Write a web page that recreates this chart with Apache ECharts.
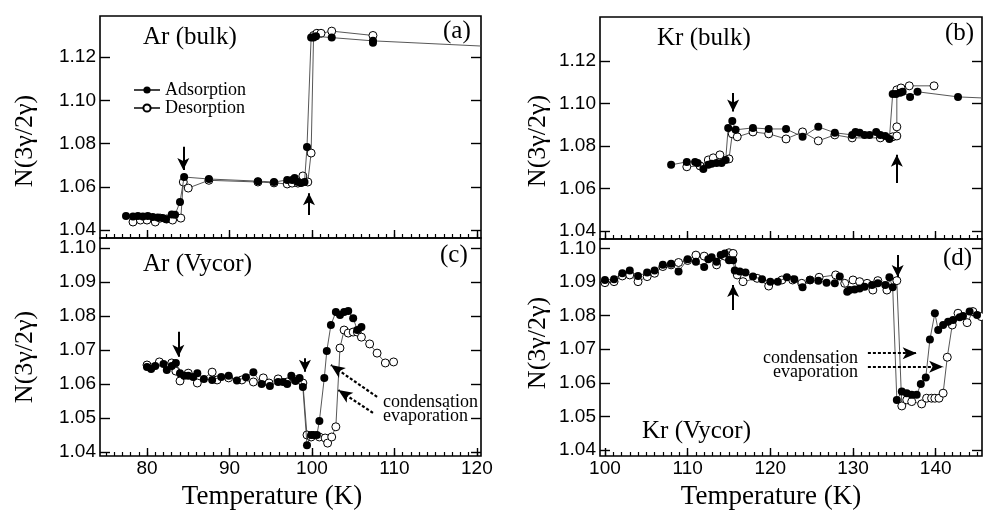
<!DOCTYPE html>
<html>
<head>
<meta charset="utf-8">
<script src="https://cdn.jsdelivr.net/npm/echarts@6/dist/echarts.min.js"></script>
<style>
html,body{margin:0;padding:0;background:#fff}
#chart{width:983px;height:512px}
</style>
</head>
<body>
<div id="chart"></div>
<script>
// (a) Ar bulk
var arBulkAdsT = [77.45,78.3,78.9,79.5,80.1,80.7,81.3,81.9,82.3,83.0,83.4,84.0,84.5,87.5,93.45,95.4,97.0,97.6,97.9,98.3,98.7,99.1,99.4,99.9,100.2,100.5,102.4,107.4,107.4];
var arBulkAdsN = [1.0465,1.0462,1.0465,1.0462,1.0465,1.0460,1.0458,1.0455,1.0450,1.0472,1.0470,1.0530,1.0645,1.0636,1.0626,1.0622,1.0631,1.0631,1.0640,1.0622,1.0618,1.0622,1.0784,1.1290,1.1290,1.1296,1.1290,1.1275,1.1266];
var arBulkTail = [120.5,1.1251];
var arBulkDesT = [78.3,79.2,80.0,81.0,81.6,82.4,83.1,84.1,84.4,85.0,87.5,93.45,95.4,97.0,97.6,98.3,98.9,99.5,99.9,100.2,100.6,101.1,102.4,107.4];
var arBulkDesN = [1.0437,1.0446,1.0446,1.0437,1.0455,1.0451,1.0446,1.0455,1.0622,1.0594,1.0630,1.0622,1.0618,1.0613,1.0617,1.0617,1.0650,1.0622,1.0756,1.1300,1.1310,1.1310,1.1320,1.1300];
var arBulkArrows = [[[84.4,1.0785],[84.4,1.0677]],[[99.64,1.0469],[99.64,1.0570]]];

// (c) Ar in Vycor
var arVycAdsT = [80.0,80.5,81.0,82.0,82.4,83.0,83.5,84.0,84.5,85.0,85.6,86.1,86.9,87.9,89.0,89.9,90.9,92.0,92.9,93.9,94.9,95.9,96.5,97.0,97.5,98.0,98.5,98.9,99.4,99.9,100.2,100.6,100.9,101.5,101.8,102.3,102.9,103.4,103.9,104.4,105.0,105.5,106.0];
var arVycAdsN = [1.0650,1.0644,1.0653,1.0659,1.0641,1.0653,1.0662,1.0632,1.0624,1.0624,1.0621,1.0632,1.0615,1.0612,1.0621,1.0624,1.0610,1.0620,1.0635,1.0600,1.0594,1.0606,1.0606,1.0600,1.0624,1.0609,1.0618,1.0591,1.0420,1.0450,1.0450,1.0450,1.0491,1.0618,1.0697,1.0774,1.0812,1.0803,1.0812,1.0815,1.0794,1.0759,1.0768];
var arVycDesT = [80.0,81.5,83.0,83.5,84.0,85.0,86.1,87.9,88.5,89.9,91.5,92.9,94.1,94.8,95.9,97.0,98.0,98.9,99.4,99.9,100.9,101.6,101.9,102.4,102.9,103.4,103.9,104.4,105.0,105.5,106.0,107.0,107.9,108.9,109.9];
var arVycDesN = [1.0656,1.0665,1.0662,1.0638,1.0609,1.0632,1.0603,1.0635,1.0612,1.0618,1.0612,1.0606,1.0618,1.0603,1.0615,1.0606,1.0612,1.0603,1.0450,1.0444,1.0444,1.0441,1.0426,1.0444,1.0474,1.0706,1.0759,1.0750,1.0753,1.0753,1.0738,1.0718,1.0691,1.0662,1.0665];
var arVycArrows = [[[83.8,1.0754],[83.8,1.0680]],[[99.15,1.0676],[99.15,1.0636]]];
var arVycDashed = [[[107.9,1.0562],[102.3,1.0656]],[[107.4,1.0515],[103.2,1.0582]]];

// (b) Kr bulk
var krBulkAdsT = [108.0,109.9,110.9,111.2,111.9,112.5,112.9,113.5,114.1,114.6,114.9,115.4,115.8,117.9,119.8,121.9,123.9,125.8,127.8,129.9,130.3,130.8,131.4,132.0,132.8,133.3,133.9,134.4,134.8,135.2,135.7,136.0,136.9,137.8,142.7];
var krBulkAdsN = [1.0711,1.0725,1.0725,1.0720,1.0692,1.0711,1.0716,1.0720,1.0720,1.0734,1.0885,1.0918,1.0876,1.0885,1.0880,1.0880,1.0843,1.0890,1.0862,1.0852,1.0866,1.0862,1.0852,1.0852,1.0866,1.0852,1.0847,1.0833,1.1045,1.1045,1.1050,1.1055,1.1031,1.1055,1.1031];
var krBulkTail = [145.6,1.1026];
var krBulkDesT = [109.9,111.5,112.5,113.1,113.9,115.0,115.4,116.0,117.9,119.8,121.9,123.9,125.8,127.8,129.9,133.3,134.8,135.3,135.3,135.3,135.8,136.8,139.8];
var krBulkDesN = [1.0702,1.0706,1.0734,1.0744,1.0758,1.0739,1.0857,1.0843,1.0866,1.0857,1.0833,1.0866,1.0824,1.0852,1.0838,1.0838,1.0843,1.0847,1.0890,1.1064,1.1073,1.1083,1.1083];
var krBulkArrows = [[[115.5,1.1049],[115.5,1.0962]],[[135.3,1.0626],[135.3,1.0758]]];

// (d) Kr in Vycor
var krVycAdsT = [100.0,101.1,102.1,103.0,104.0,105.1,106.0,107.0,108.0,108.9,110.0,111.0,112.0,112.5,112.9,113.5,114.0,114.5,115.0,115.5,115.7,116.3,117.0,117.9,119.0,120.0,120.9,122.0,122.9,123.9,124.8,125.8,126.8,127.8,128.4,129.3,129.6,130.2,130.8,131.4,132.3,133.0,133.9,134.4,134.8,135.3,135.9,136.5,137.1,137.7,138.2,138.8,139.3,139.9,140.3,140.9,141.5,142.1,142.9,143.3,144.1,145.0];
var krVycAdsN = [1.0906,1.0908,1.0926,1.0934,1.0918,1.0928,1.0934,1.0951,1.0954,1.0931,1.0968,1.0960,1.0945,1.0968,1.0974,1.0960,1.0980,1.0985,1.0965,1.0965,1.0934,1.0931,1.0928,1.0916,1.0908,1.0901,1.0901,1.0914,1.0908,1.0884,1.0906,1.0904,1.0898,1.0896,1.0916,1.0871,1.0876,1.0878,1.0881,1.0886,1.0891,1.0896,1.0891,1.0914,1.0884,1.0549,1.0574,1.0569,1.0564,1.0564,1.0596,1.0616,1.0729,1.0807,1.0757,1.0772,1.0782,1.0787,1.0795,1.0799,1.0812,1.0802];
var krVycDesT = [100.0,101.1,102.1,103.0,104.0,105.1,106.0,107.0,108.0,108.9,110.0,111.0,112.0,113.5,114.5,115.0,115.5,116.0,116.7,118.4,119.8,121.4,122.7,123.8,124.8,125.9,127.9,129.0,130.0,130.8,131.7,132.4,133.0,134.1,134.8,135.3,135.9,136.5,137.1,138.3,138.9,139.5,139.9,140.4,140.9,141.4,142.0,142.7,143.8,144.5,145.5];
var krVycDesN = [1.0898,1.0901,1.0918,1.0921,1.0901,1.0916,1.0926,1.0946,1.0951,1.0958,1.0964,1.0980,1.0977,1.0951,1.0977,1.0987,1.0985,1.0921,1.0901,1.0911,1.0888,1.0906,1.0906,1.0896,1.0906,1.0914,1.0921,1.0896,1.0906,1.0901,1.0896,1.0876,1.0904,1.0876,1.0898,1.0904,1.0531,1.0549,1.0544,1.0537,1.0554,1.0554,1.0554,1.0554,1.0569,1.0676,1.0772,1.0807,1.0779,1.0812,1.0797];
var krVycArrows = [[[135.4,1.0980],[135.4,1.0915]],[[115.5,1.0817],[115.5,1.0891]]];
var krVycDashed = [[[131.8,1.0688],[137.7,1.0688]],[[131.8,1.0648],[140.9,1.0648]]];

// axis ticks
var arTempTicks = [80,90,100,110,120];
var krTempTicks = [100,110,120,130,140];
var bulkTicks = [1.04,1.06,1.08,1.10,1.12];
var vycorTicks = [1.04,1.05,1.06,1.07,1.08,1.09,1.10];

var serif = 'Liberation Serif';
var sans = 'Liberation Sans';

function pairs(t, n, tail) {
	var out = [];
	for (var i = 0; i < Math.min(t.length, n.length); i++) out.push([t[i], n[i]]);
	if (tail) out.push({value: tail, symbol: 'none'});
	return out;
}

function minorTicks(lo, hi) {
	var out = [];
	for (var v = Math.ceil(lo); v <= hi; v++) out.push(v);
	return out;
}

function makeX(grid, min, max, major, labels) {
	return [{
		type: 'value', gridIndex: grid, min: min, max: max, position: 'bottom',
		axisLine: {show: false}, splitLine: {show: false},
		axisTick: {show: true, inside: true, length: 8, customValues: major, lineStyle: {color: '#000', width: 1.4}},
		axisLabel: {show: labels, customValues: major, margin: 3, color: '#000', fontFamily: sans, fontSize: 19}
	}, {
		type: 'value', gridIndex: grid, min: min, max: max, position: 'bottom',
		axisLine: {show: false}, splitLine: {show: false},
		axisTick: {show: true, inside: true, length: 4, customValues: minorTicks(min, max), lineStyle: {color: '#000', width: 1.2}},
		axisLabel: {show: false}
	}];
}

function makeY(grid, min, max, ticks) {
	return [{
		type: 'value', gridIndex: grid, min: min, max: max, position: 'left',
		axisLine: {show: false}, splitLine: {show: false},
		axisTick: {show: true, inside: true, length: 10, customValues: ticks, lineStyle: {color: '#000', width: 1.4}},
		axisLabel: {customValues: ticks, margin: 4, color: '#000', fontFamily: sans, fontSize: 19,
			formatter: function (v) { return v.toFixed(2); }}
	}, {
		type: 'value', gridIndex: grid, min: min, max: max, position: 'right',
		axisLine: {show: false}, splitLine: {show: false},
		axisTick: {show: true, inside: true, length: 10, customValues: ticks, lineStyle: {color: '#000', width: 1.4}},
		axisLabel: {show: false}
	}];
}

function arrowLines(list) {
	return list.map(function (a) { return [{coord: a[0]}, {coord: a[1]}]; });
}

function makeSeries(grid, adsData, desData, arrows, dashed) {
	var ads = {
		name: 'Adsorption', type: 'line', xAxisIndex: grid * 2, yAxisIndex: grid * 2,
		data: adsData, symbol: 'circle', symbolSize: 8, z: 3,
		itemStyle: {color: '#000'},
		lineStyle: {color: '#444', width: 0.9},
		markLine: {
			silent: true, symbol: ['none', 'arrow'], symbolSize: [9, 12],
			label: {show: false},
			lineStyle: {color: '#000', width: 2, type: 'solid'},
			data: arrowLines(arrows)
		}
	};
	var des = {
		name: 'Desorption', type: 'line', xAxisIndex: grid * 2, yAxisIndex: grid * 2,
		data: desData, symbol: 'circle', symbolSize: 8, z: 2,
		itemStyle: {color: '#fff', borderColor: '#000', borderWidth: 1},
		lineStyle: {color: '#444', width: 0.9}
	};
	if (dashed) {
		des.markLine = {
			silent: true, symbol: ['none', 'arrow'], symbolSize: [9, 14],
			label: {show: false},
			lineStyle: {color: '#000', width: 2.2, type: [3, 2]},
			data: arrowLines(dashed)
		};
	}
	return [ads, des];
}

function txt(x, y, s, size, align, rot) {
	return {
		type: 'text', x: x, y: y, rotation: rot || 0, silent: true,
		style: {text: s, font: size + 'px "' + serif + '"', fill: '#000',
			align: align || 'left', verticalAlign: 'middle',
			textAlign: align || 'left', textVerticalAlign: 'middle'}
	};
}

var chart = echarts.init(document.getElementById('chart'));

var gridStyle = {show: true, borderColor: '#000', borderWidth: 1.6, backgroundColor: 'transparent', containLabel: false};

var option = {
	animation: false,
	backgroundColor: '#fff',
	grid: [
		Object.assign({left: 100, top: 16, width: 381, height: 222}, gridStyle),
		Object.assign({left: 100, top: 238, width: 381, height: 218}, gridStyle),
		Object.assign({left: 600, top: 17, width: 382, height: 222}, gridStyle),
		Object.assign({left: 600, top: 239, width: 382, height: 217}, gridStyle)
	],
	xAxis: [].concat(
		makeX(0, 74.3, 120.5, arTempTicks, false),
		makeX(1, 74.3, 120.5, arTempTicks, true),
		makeX(2, 99.4, 145.6, krTempTicks, false),
		makeX(3, 99.4, 145.6, krTempTicks, true)
	),
	yAxis: [].concat(
		makeY(0, 1.0363, 1.1390, bulkTicks),
		makeY(1, 1.0388, 1.1030, vycorTicks),
		makeY(2, 1.0362, 1.1407, bulkTicks),
		makeY(3, 1.0382, 1.1028, vycorTicks)
	),
	legend: {
		data: ['Adsorption', 'Desorption'], left: 128, top: 76, orient: 'vertical',
		itemWidth: 26, itemHeight: 9, itemGap: 0, selectedMode: false,
		textStyle: {fontFamily: serif, fontSize: 18, color: '#000', lineHeight: 18}
	},
	series: [].concat(
		makeSeries(0, pairs(arBulkAdsT, arBulkAdsN, arBulkTail), pairs(arBulkDesT, arBulkDesN), arBulkArrows),
		makeSeries(1, pairs(arVycAdsT, arVycAdsN), pairs(arVycDesT, arVycDesN), arVycArrows, arVycDashed),
		makeSeries(2, pairs(krBulkAdsT, krBulkAdsN, krBulkTail), pairs(krBulkDesT, krBulkDesN), krBulkArrows),
		makeSeries(3, pairs(krVycAdsT, krVycAdsN), pairs(krVycDesT, krVycDesN), krVycArrows, krVycDashed)
	),
	graphic: [
		txt(143, 37, 'Ar (bulk)', 25),
		txt(443, 31, '(a)', 25),
		txt(143, 264, 'Ar (Vycor)', 25),
		txt(440, 255, '(c)', 25),
		txt(383, 402, 'condensation', 18),
		txt(383, 416, 'evaporation', 18),
		txt(657, 38, 'Kr (bulk)', 25),
		txt(945, 33, '(b)', 25),
		txt(642, 431, 'Kr (Vycor)', 25),
		txt(943, 258, '(d)', 25),
		txt(858, 358, 'condensation', 18, 'right'),
		txt(858, 372, 'evaporation', 18, 'right'),
		txt(25, 141, 'N(3γ/2γ)', 26, 'center', Math.PI / 2),
		txt(25, 357, 'N(3γ/2γ)', 26, 'center', Math.PI / 2),
		txt(538, 141, 'N(3γ/2γ)', 26, 'center', Math.PI / 2),
		txt(538, 343, 'N(3γ/2γ)', 26, 'center', Math.PI / 2),
		txt(272, 497, 'Temperature (K)', 27, 'center'),
		txt(771, 497, 'Temperature (K)', 27, 'center')
	]
};

chart.setOption(option);
</script>
</body>
</html>
